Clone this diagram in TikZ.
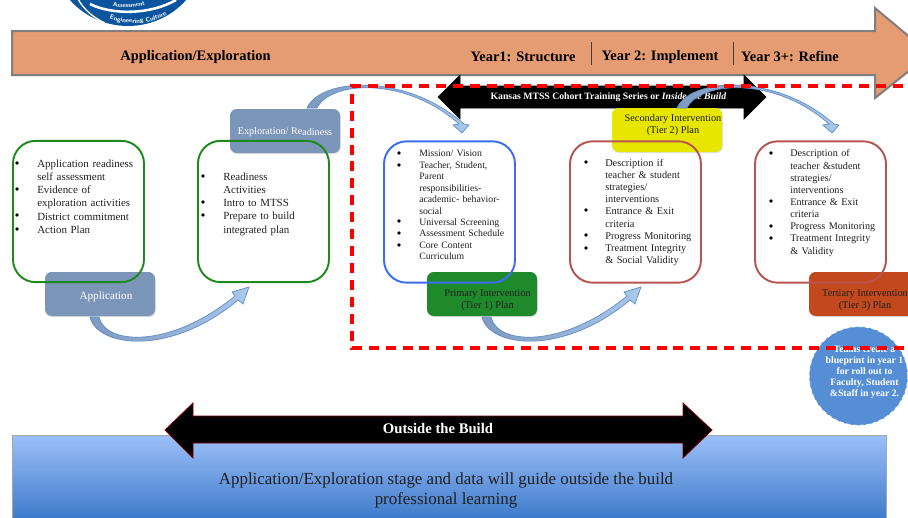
\documentclass[tikz,border=0pt]{standalone}
\usepackage{fontspec}
\setmainfont{Liberation Serif}
\usetikzlibrary{shadows,decorations.text}
\definecolor{orangeband}{HTML}{E69C72}
\definecolor{bandedge}{HTML}{7F7F7F}
\definecolor{steel}{HTML}{7C96BA}
\definecolor{greenline}{HTML}{1E8A1E}
\definecolor{blueline}{HTML}{3C6CF0}
\definecolor{redline}{HTML}{B85450}
\definecolor{tierone}{HTML}{1F8A2C}
\definecolor{tiertwo}{HTML}{E6E600}
\definecolor{tierthree}{HTML}{C2491D}
\definecolor{circleblue}{HTML}{558ED5}
\definecolor{logoblue}{HTML}{0B559E}
\definecolor{swoopa}{HTML}{7F9AC0}
\definecolor{swoopb}{HTML}{A9C8EA}
\definecolor{swoopedge}{HTML}{5B8BC9}
\definecolor{boxtop}{HTML}{9CC0F8}
\definecolor{boxmid}{HTML}{8FB7F4}
\definecolor{boxbot}{HTML}{3F7BCB}
\tikzset{
  x=0.75pt,y=-0.75pt,
  every node/.style={font=\fontsize{8.2}{9.9}\selectfont,text=black!88},
  card/.style={draw=#1,rounded corners=17pt,line width=1.45pt,minimum width=98.25pt,minimum height=106pt,inner sep=0pt},
  tab/.style={fill=#1,rounded corners=5pt,minimum width=82.5pt,minimum height=33pt,inner sep=0pt,drop shadow={shadow xshift=0.6pt,shadow yshift=-0.8pt,opacity=0.25}},
  tabtext/.style={align=center,font=\fontsize{7.75}{9}\selectfont},
  tabwhite/.style={text=white,font=\fontsize{#1}{9}\selectfont},
  listbox/.style={anchor=north west,align=left,inner sep=0pt},
  bandtext/.style={font=\fontsize{10.85}{12}\selectfont\bfseries,text=black},
  swoop/.style={left color=swoopa,right color=swoopb,draw=swoopedge,line width=0.5pt},
  reddash/.style={red,line width=2.6pt,dash pattern=on 7.5pt off 5.2pt}
}
\newcommand{\swooplow}[1]{%
  \path[swoop,shift={(#1,0)}]
    (90,317) .. controls (97,347) and (170,357) .. (238,300) -- (243,304) -- (249,287) -- (232,292) -- (235,296)
    .. controls (170,349) and (105,345) .. (99,317) -- cycle;}
\newcommand{\swoophigh}[1]{%
  \path[swoop,shift={(#1,0)}]
    (307,108) .. controls (320,78) and (405,72) .. (464,124) -- (469,125) -- (462,133) -- (453,125) -- (459,124)
    .. controls (405,76) and (330,81) .. (317,108) -- cycle;}
\begin{document}
\begin{tikzpicture}
\useasboundingbox (0,0) rectangle (908,518);
\begin{scope}
\clip (0,0) rectangle (908,518);
% logo
\fill[logoblue] (128,-52) circle (78);
\draw[white,line width=1.9pt] (90,4) .. controls (112,15) and (150,15) .. (176,0);
\draw[white,line width=1pt] (78,-1) .. controls (84,10) and (94,18) .. (105,23);
\path[decorate,decoration={text along path,text={|\fontsize{4.6}{5}\bfseries\sffamily\color{white}|Assessment},text align=center}] (104,5) .. controls (118,9) and (138,8) .. (154,3);
\path[decorate,decoration={text along path,text={|\fontsize{4.9}{5}\bfseries\sffamily\color{white}|Engineering Culture},text align=center}] (104,16) .. controls (122,26) and (150,26) .. (172,12);
% band arrow
\path[fill=orangeband,draw=bandedge,line width=1.5pt,drop shadow={shadow xshift=0.6pt,shadow yshift=-0.8pt,opacity=0.3}]
  (12,31) -- (875,31) -- (875,8) -- (930,54) -- (875,98) -- (875,75) -- (12,75) -- cycle;
\node[bandtext] (appl) at (195.5,57) {Application/Exploration};
\node[bandtext] (y1) at (523,57) {Year1: Structure};
\node[bandtext] (y2) at (660,57) {Year 2: Implement};
\node[bandtext] (y3) at (790,57) {Year 3+: Refine};
\coordinate (s1a) at (591,42); \coordinate (s1b) at (591,65);
\coordinate (s2a) at (733,42); \coordinate (s2b) at (733,65);
\draw[line width=0.7pt,black!75] (s1a) -- (s1b);
\draw[line width=0.7pt,black!75] (s2a) -- (s2b);
% cohort arrow
\path[fill=black,draw=black] (438,97) -- (460,75) -- (460,86) -- (744,86) -- (744,75) -- (766,97) -- (744,119) -- (744,108) -- (460,108) -- (460,119) -- cycle;
\node[text=white,font=\fontsize{7.3}{8}\selectfont\bfseries] (cohort) at (608.5,97.5) {Kansas MTSS Cohort Training Series or \textit{Inside the Build}};
% tabs
\node[tab=tiertwo] (t2) at (667,130) {};
\node[tabtext] (t2t) at (673,125.5) {Secondary Intervention\\(Tier 2) Plan};
\node[tab=steel] (expl) at (285,131) {};
\node[tabwhite=7.6] (explt) at (285,132) {Exploration/ Re\raisebox{-1pt}{adiness}};
\node[tab=steel] (appt) at (100,294) {};
\node[tabwhite=8.4] (apptt) at (106,297) {Application};
\node[tab=tierone] (t1) at (482,294) {};
\node[tabtext] (t1t) at (487.5,300.5) {Primary Intervention\\(Tier 1) Plan};
\node[tab=tierthree] (t3) at (864,294) {};
\node[tabtext] (t3t) at (865,300.5) {Tertiary Intervention\\(Tier 3) Plan};
% curved arrows
\swooplow{0}
\swooplow{392}
\swoophigh{0}
\swoophigh{370}
% cards
\node[card=greenline] (c1) at (78.5,211.5) {};
\node[card=greenline] (c2) at (263.5,211.5) {};
\node[card=blueline] (c3) at (449.5,212) {};
\node[card=redline] (c4) at (635.5,212) {};
\node[card=redline] (c5) at (820.5,212) {};
% bullets
\foreach \x/\y in {17/163,17/189,17/215,17/229, 203/176,203/202,203/215, 399/153,399/165,399/221,399/233,399/245, 586/162,586/210,586/235,586/248, 771/153,771/201,771/226,771/238}{
  \fill (\x,\y) circle (1.9);
}
% lists
\node[listbox,text width=75pt] (a1) at (37,159.5) {Application readiness\\self assessment\\Evidence of\\exploration activities\\District commitment\\Action Plan};
\node[listbox,text width=75pt] (a2) at (223,172.5) {Readiness\\Activities\\Intro to MTSS\\Prepare to build\\integrated plan};
\node[listbox,text width=82pt,font=\fontsize{7.3}{8.6}\selectfont] (a3) at (419,150) {Mission/ Vision\\Teacher, Student,\\Parent\\responsibilities-\\academic- behavior-\\social\\Universal Screening\\Assessment Schedule\\Core Content\\Curriculum};
\node[listbox,text width=78pt,font=\fontsize{7.75}{9.15}\selectfont] (a4) at (605,158.5) {Description if\\teacher \& student\\strategies/\\interventions\\Entrance \& Exit\\criteria\\Progress Monitoring\\Treatment Integrity\\\& Social Validity};
\node[listbox,text width=78pt,font=\fontsize{7.65}{9.1}\selectfont] (a5) at (790,149.5) {Description of\\teacher \&student\\strategies/\\interventions\\Entrance \& Exit\\criteria\\Progress Monitoring\\Treatment Integrity\\\& Validity};
% circle
\node[circle,fill=circleblue,draw=white,densely dashed,line width=0.6pt,minimum size=74pt,inner sep=0pt] (blue) at (858.5,376) {};
\node[text=white,align=center,font=\fontsize{7.3}{8.2}\selectfont\bfseries] (bluet) at (864.5,372) {Teams create a\\blueprint in year 1\\for roll out to\\Faculty, Student\\\&Staff in year 2.};
% dashed region
\coordinate (d1) at (352,86); \coordinate (d2) at (920,86); \coordinate (d3) at (920,348); \coordinate (d4) at (352,348);
\draw[reddash] (d2) -- (d1) -- (d4) -- (d3);
% bottom box
\path[top color=boxtop,middle color=boxmid,bottom color=boxbot] (12,435) rectangle (886,518);
\draw[black!35,line width=0.4pt] (12,518) -- (12,435) -- (886,435) -- (886,518);
\node[align=center,font=\fontsize{12.7}{14.6}\selectfont] (bott) at (446,490.5) {Application/Exploration stage and data will guide outside the build\\professional learning};
% outside arrow
\path[fill=black,draw=red!50!black,line width=0.6pt] (165,430) -- (193,403) -- (193,416) -- (683,416) -- (683,403) -- (712,430) -- (683,458) -- (683,443) -- (193,443) -- (193,458) -- cycle;
\node[text=white,font=\fontsize{11}{12}\selectfont\bfseries] (outs) at (438,428) {Outside the Build};
\end{scope}
\end{tikzpicture}
\end{document}
